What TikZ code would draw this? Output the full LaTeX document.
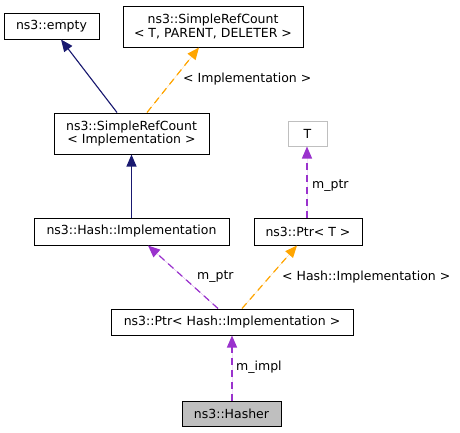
\documentclass[tikz,border=0pt]{standalone}
\usepackage{fontspec}
\setmainfont{DejaVu Sans}
\usetikzlibrary{arrows.meta}
\definecolor{navy}{HTML}{191970}
\definecolor{orng}{HTML}{FFA500}
\definecolor{purp}{HTML}{9A32CD}
\definecolor{hgray}{HTML}{BFBFBF}
\begin{document}
\begin{tikzpicture}[x=1pt,y=-1pt,
  box/.style={draw=black,line width=1pt,fill=white,rectangle,inner sep=0pt,align=center,
    font=\fontsize{12.5}{13.7}\selectfont},
  lbl/.style={font=\fontsize{12.5}{13.7}\selectfont,inner sep=0pt,anchor=west},
  tip/.style={-{Triangle[length=12pt,width=10pt]}},
  inh/.style={tip,draw=navy,fill=navy,line width=1.1pt},
  tmpl/.style={tip,draw=orng,fill=orng,line width=1.2pt,dash pattern=on 7pt off 5pt},
  usage/.style={tip,draw=purp,fill=purp,line width=1.2pt,dash pattern=on 7pt off 5pt}]
\useasboundingbox (0,0) rectangle (460,432);
\fill[white] (0,0) rectangle (460,432);
\node[box,minimum width=95pt,minimum height=26pt] (empty) at (51.5,26) {ns3::empty};
\node[box,minimum width=180pt,minimum height=41pt] (srctpd) at (213,26.5) {ns3::SimpleRefCount\\< T, PARENT, DELETER >};
\node[box,minimum width=155pt,minimum height=41pt] (srcimpl) at (131.5,133.5) {ns3::SimpleRefCount\\< Implementation >};
\node[box,draw=hgray,minimum width=39pt,minimum height=25pt] (T) at (307.5,133.5) {T};
\node[box,minimum width=195pt,minimum height=27pt] (himpl) at (131.5,231.5) {ns3::Hash::Implementation};
\node[box,minimum width=108pt,minimum height=27pt] (ptrt) at (308,231.5) {ns3::Ptr< T >};
\node[box,minimum width=242pt,minimum height=26pt] (ptrh) at (232,322) {ns3::Ptr< Hash::Implementation >};
\node[box,fill=hgray,minimum width=99pt,minimum height=25pt] (hasher) at (231.5,413.5) {ns3::Hasher};

\draw[inh] ([xshift=-14.5pt]srcimpl.north) -- ([xshift=9.5pt]empty.south);
\draw[tmpl] ([xshift=15.5pt]srcimpl.north) -- ([xshift=-14pt]srctpd.south);
\draw[inh] (himpl.north) -- (srcimpl.south);
\draw[usage] ([xshift=-1pt]ptrt.north) -- ([xshift=-0.5pt]T.south);
\draw[usage] ([xshift=-14pt]ptrh.north) -- ([xshift=16.5pt]himpl.south);
\draw[tmpl] ([xshift=10pt]ptrh.north) -- ([xshift=-11pt]ptrt.south);
\draw[usage] ([xshift=0.5pt]hasher.north) -- (ptrh.south);

\node[lbl] (l1) at (183,79) {< Implementation >};
\node[lbl] (l2) at (312,186) {m\_ptr};
\node[lbl] (l3) at (197,277) {m\_ptr};
\node[lbl] (l4) at (282,277) {< Hash::Implementation >};
\node[lbl] (l5) at (236,367) {m\_impl};
\end{tikzpicture}
\end{document}
